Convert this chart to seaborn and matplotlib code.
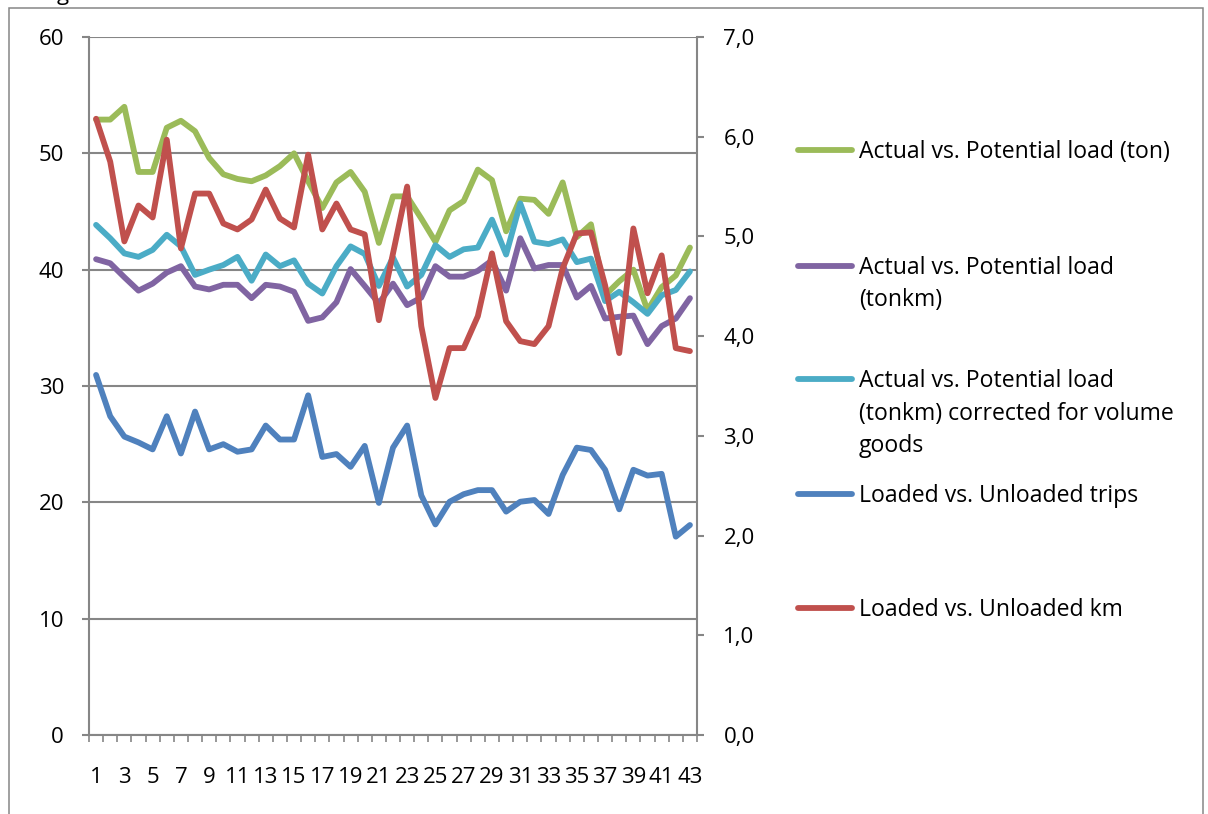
import matplotlib.pyplot as plt
import seaborn as sns
from matplotlib.patches import Rectangle
from matplotlib.ticker import FuncFormatter

sns.set_style("white")
plt.rcParams["font.family"] = ["Open Sans", "DejaVu Sans"]
plt.rcParams["text.color"] = "black"

periods = list(range(1, 44))

load_ton = [52.9, 52.9, 54.0, 48.4, 48.4, 52.2, 52.8, 51.9, 49.6, 48.2, 47.8, 47.6, 48.1, 48.9,
            50.0, 47.6, 45.3, 47.5, 48.4, 46.7, 42.3, 46.3, 46.3, 44.4, 42.4, 45.1, 45.9, 48.6,
            47.7, 43.3, 46.1, 46.0, 44.8, 47.5, 42.8, 43.9, 37.8, 39.0, 40.0, 36.5, 38.5, 39.5, 41.9]
load_tonkm = [40.9, 40.55, 39.35, 38.2, 38.8, 39.75, 40.3, 38.55, 38.3, 38.7, 38.7, 37.55, 38.7, 38.55,
              38.1, 35.6, 35.9, 37.2, 40.05, 38.6, 37.1, 38.8, 36.95, 37.6, 40.3, 39.4, 39.4, 39.9,
              40.8, 38.2, 42.7, 40.1, 40.4, 40.4, 37.6, 38.6, 35.8, 35.95, 36.05, 33.6, 35.15, 35.8, 37.55]
load_tonkm_vol = [43.85, 42.7, 41.4, 41.1, 41.7, 43.0, 42.0, 39.55, 40.0, 40.4, 41.1, 39.05, 41.3, 40.3,
                  40.8, 38.8, 37.95, 40.3, 42.0, 41.35, 38.6, 41.05, 38.55, 39.55, 42.1, 41.1, 41.75, 41.9,
                  44.3, 41.3, 45.7, 42.4, 42.2, 42.6, 40.65, 40.95, 37.3, 38.1, 37.2, 36.2, 37.8, 38.25, 39.85]
trips_ratio = [30.95, 27.4, 25.65, 25.15, 24.55, 27.4, 24.2, 27.8, 24.55, 25.0, 24.35, 24.55, 26.6, 25.4,
               25.4, 29.2, 23.9, 24.15, 23.05, 24.85, 19.95, 24.7, 26.6, 20.6, 18.1, 20.05, 20.7, 21.05,
               21.05, 19.2, 20.05, 20.2, 19.0, 22.35, 24.7, 24.5, 22.8, 19.4, 22.8, 22.3, 22.45, 17.05, 18.05]
km_ratio = [6.18, 5.75, 4.95, 5.31, 5.19, 5.97, 4.88, 5.43, 5.43, 5.13, 5.07, 5.17, 5.47, 5.18,
            5.09, 5.82, 5.07, 5.33, 5.07, 5.02, 4.16, 4.83, 5.50, 4.10, 3.38, 3.88, 3.88, 4.20,
            4.83, 4.15, 3.95, 3.92, 4.10, 4.68, 5.03, 5.04, 4.51, 3.83, 5.08, 4.43, 4.81, 3.88, 3.85]

names = ["Actual vs. Potential load (ton)",
         "Actual vs. Potential load\n(tonkm)",
         "Actual vs. Potential load\n(tonkm) corrected for volume\ngoods",
         "Loaded vs. Unloaded trips",
         "Loaded vs. Unloaded km"]
colors = ["#9BBB59", "#8064A2", "#4BACC6", "#4F81BD", "#C0504D"]
left_ticks = [0, 10, 20, 30, 40, 50, 60]
right_ticks = [0, 1, 2, 3, 4, 5, 6, 7]
x_labels = list(range(1, 44, 2))

W, H = 1208, 814
gray = "#868686"
fs = 16
leg_fs = 16.6
fig = plt.figure(figsize=(W / 100, H / 100), dpi=100)
ax = fig.add_axes([89 / W, 1 - 735 / H, (697 - 89) / W, (735 - 37) / H])
ax2 = ax.twinx()

style = dict(linewidth=4.2, solid_joinstyle="round", solid_capstyle="round", legend=False)
handles = []
for values, color in zip([load_ton, load_tonkm, load_tonkm_vol, trips_ratio], colors[:4]):
    sns.lineplot(x=periods, y=values, ax=ax, color=color, **style)
    handles.append(ax.get_lines()[-1])
sns.lineplot(x=periods, y=km_ratio, ax=ax2, color=colors[4], **style)
handles.append(ax2.get_lines()[-1])

ax.set_xlim(0.5, 43.5)
ax.set_ylim(0, 60)
ax2.set_ylim(0, 7)
ax.set_yticks(left_ticks)
ax2.set_yticks(right_ticks)
ax2.yaxis.set_major_formatter(FuncFormatter(lambda v, p: f"{v:.1f}".replace(".", ",")))
ax.set_xticks(x_labels)
ax.set_xticks([i + 0.5 for i in range(0, 44)], minor=True)
ax.set_xlabel("")
ax.set_ylabel("")
ax2.set_ylabel("")

ax.yaxis.grid(True, color=gray, linewidth=1.5)
ax.set_axisbelow(True)
for a in (ax, ax2):
    for s in a.spines.values():
        s.set_visible(False)
ax.spines["left"].set_visible(True)
ax.spines["bottom"].set_visible(True)
ax2.spines["right"].set_visible(True)
for s in (ax.spines["left"], ax.spines["bottom"], ax2.spines["right"]):
    s.set_color(gray)
    s.set_linewidth(1.5)

ax.tick_params(axis="y", which="major", left=True, length=5, width=1.5, color=gray,
               labelsize=fs, pad=13, labelcolor="black")
ax2.tick_params(axis="y", which="major", right=True, length=5, width=1.5, color=gray,
                labelsize=fs, pad=14, labelcolor="black")
ax.tick_params(axis="x", which="major", bottom=True, length=0, labelsize=fs, pad=23,
               labelcolor="black")
ax.tick_params(axis="x", which="minor", bottom=True, length=5, width=1.2, color=gray)

# legend: one box per entry holding the first line, the wrapped lines follow below it
legend_y = [152, 268, 381, 496, 610]
line_pitch = 32.5
legends = []
for h, name, y in zip(handles, names, legend_y):
    first = name.split("\n")[0]
    leg = fig.legend([h], [first], loc="center left", bbox_to_anchor=(798 / W, 1 - y / H),
                     frameon=False, borderpad=0, borderaxespad=0, handlelength=2.35,
                     handletextpad=0.28, fontsize=leg_fs)
    legends.append(leg)

fig.canvas.draw()
renderer = fig.canvas.get_renderer()
for leg, name in zip(legends, names):
    rest = name.split("\n")[1:]
    bb = leg.get_texts()[0].get_window_extent(renderer)
    for k, line in enumerate(rest, start=1):
        fig.text(bb.x0 / W, (bb.y0 - k * line_pitch) / H, line, fontsize=leg_fs,
                 ha="left", va="bottom")

fig.text(57 / W, 1.0, "g", fontsize=fs, ha="left", va="baseline")
fig.patches.append(Rectangle((9 / W, -0.05), (1203 - 9) / W, 1.05 - 8 / H,
                             transform=fig.transFigure, fill=False, edgecolor=gray, linewidth=1.1))

fig.savefig("out.png", dpi=100)
